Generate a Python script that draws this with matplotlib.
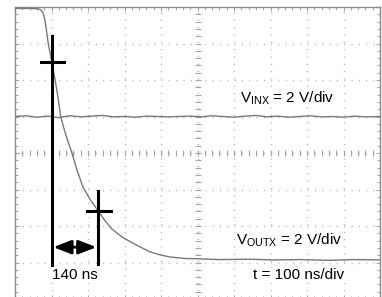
import matplotlib
matplotlib.use("Agg")
import matplotlib.pyplot as plt
import numpy as np
from matplotlib.ticker import MultipleLocator

plt.rcParams["font.family"] = ["Liberation Sans", "DejaVu Sans"]
plt.rcParams["mathtext.fontset"] = "custom"
plt.rcParams["mathtext.rm"] = "Liberation Sans"
plt.rcParams["lines.scale_dashes"] = False

# output trace (divisions: x 0..10, y 0..8)
vout_t = [0.0, 0.41, 0.63, 0.71, 0.77, 0.82, 0.86, 0.91, 1.01, 1.10, 1.18, 1.25,
          1.33, 1.42, 1.55, 1.70, 1.86, 2.05, 2.28, 2.47, 2.65, 2.93, 3.23, 3.48,
          3.70, 3.97, 4.25, 4.66, 5.07, 5.6, 6.44, 7.1, 7.81, 8.6, 9.3, 10.0]
vout_v = [7.96, 7.96, 7.95, 7.92, 7.84, 7.64, 7.37, 7.01, 6.49, 6.00, 5.51, 5.01,
          4.71, 4.41, 4.03, 3.53, 3.07, 2.74, 2.41, 2.14, 1.92, 1.70, 1.53, 1.40,
          1.29, 1.21, 1.15, 1.11, 1.10, 1.08, 1.09, 1.07, 1.08, 1.06, 1.08, 1.07]

# input trace, flat with small wiggles
vin_t = [0.0, 0.3, 0.6, 0.9, 1.2, 1.5, 1.8, 2.1, 2.4, 2.7, 3.0, 3.3, 3.6, 3.9,
         4.2, 4.5, 4.8, 5.1, 5.4, 5.7, 6.0, 6.3, 6.6, 6.9, 7.2, 7.5, 7.8, 8.1,
         8.4, 8.7, 9.0, 9.3, 9.6, 10.0]
vin_v = [5.00, 5.02, 4.98, 5.01, 4.97, 5.02, 4.99, 5.01, 5.03, 4.99, 5.00, 4.98,
         5.01, 5.00, 4.99, 5.00, 5.01, 4.99, 5.02, 5.00, 4.98, 5.01, 5.03, 4.99,
         5.01, 4.98, 5.00, 5.02, 4.99, 5.00, 4.98, 5.01, 4.99, 5.00]

# cursors
cur1_x, cur1_y0, cur1_y1 = 1.01, 0.90, 7.21
cur1_bar = (0.71, 1.34, 6.49)
cur2_x, cur2_y0, cur2_y1 = 2.27, 0.96, 2.96
cur2_bar = (1.97, 2.63, 2.41)
arrow_y = 1.42

fig = plt.figure(figsize=(3.82, 2.97), dpi=100)
ax = fig.add_axes([15 / 382, -2 / 297, 365 / 382, 292 / 297])
ax.set_xlim(0, 10)
ax.set_ylim(0, 8)

grid_c = "#a6a6a6"
for gx in range(1, 10):
    ax.axvline(gx, color=grid_c, lw=1.0, dashes=(0.7, 4.56), dash_capstyle="butt", zorder=1)
for gy in range(1, 8):
    ax.axhline(gy, color=grid_c, lw=1.0, dashes=(0.7, 4.56), dash_capstyle="butt", zorder=1)

# center graticule ticks
minor = np.arange(0, 10.01, 0.2)
ax.plot(minor, np.full_like(minor, 4.0), ls="none", marker="|", ms=4, mew=0.8, color=grid_c, zorder=1)
minor_y = np.arange(0, 8.01, 0.2)
ax.plot(np.full_like(minor_y, 5.0), minor_y, ls="none", marker="_", ms=4, mew=0.8, color=grid_c, zorder=1)

ax.xaxis.set_major_locator(MultipleLocator(1))
ax.yaxis.set_major_locator(MultipleLocator(1))
ax.xaxis.set_minor_locator(MultipleLocator(0.2))
ax.yaxis.set_minor_locator(MultipleLocator(0.2))
ax.tick_params(which="both", direction="in", top=True, right=True, labelbottom=False,
               labelleft=False, color=grid_c, width=0.8)
ax.tick_params(which="major", length=3)
ax.tick_params(which="minor", length=2.5)
for s in ax.spines.values():
    s.set_color("#8a8a8a")
    s.set_linewidth(1.0)

trace_c = "#787878"
ax.plot(vin_t, vin_v, color=trace_c, lw=1.0, zorder=3)
ax.plot(vout_t, vout_v, color=trace_c, lw=1.0, zorder=3)

lw_cur = 2.2
ax.plot([cur1_x, cur1_x], [cur1_y0, cur1_y1], color="black", lw=lw_cur, zorder=4)
ax.plot([cur1_bar[0], cur1_bar[1]], [cur1_bar[2], cur1_bar[2]], color="black", lw=lw_cur, zorder=4)
ax.plot([cur2_x, cur2_x], [cur2_y0, cur2_y1], color="black", lw=lw_cur, zorder=4)
ax.plot([cur2_bar[0], cur2_bar[1]], [cur2_bar[2], cur2_bar[2]], color="black", lw=lw_cur, zorder=4)

ax.annotate("", xy=(cur1_x + 0.04, arrow_y), xytext=(cur2_x - 0.04, arrow_y),
            arrowprops=dict(arrowstyle="<|-|>,head_length=0.9,head_width=0.35",
                            color="black", lw=2.0, shrinkA=0, shrinkB=0, mutation_scale=12),
            zorder=5)

box = dict(facecolor="white", edgecolor="none", pad=0.5)
ax.text(1.64, 0.66, "140 ns", fontsize=11, ha="center", va="center", bbox=box, zorder=6)
ax.text(6.16, 5.51, r"V$_{\mathrm{INX}}$ = 2 V/div", fontsize=11, ha="left", va="center", bbox=box, zorder=6)
ax.text(6.05, 1.62, r"V$_{\mathrm{OUTX}}$ = 2 V/div", fontsize=11, ha="left", va="center", bbox=box, zorder=6)
ax.text(6.52, 0.66, "t = 100 ns/div", fontsize=11, ha="left", va="center", bbox=box, zorder=6)

fig.savefig("out.png", dpi=100)
